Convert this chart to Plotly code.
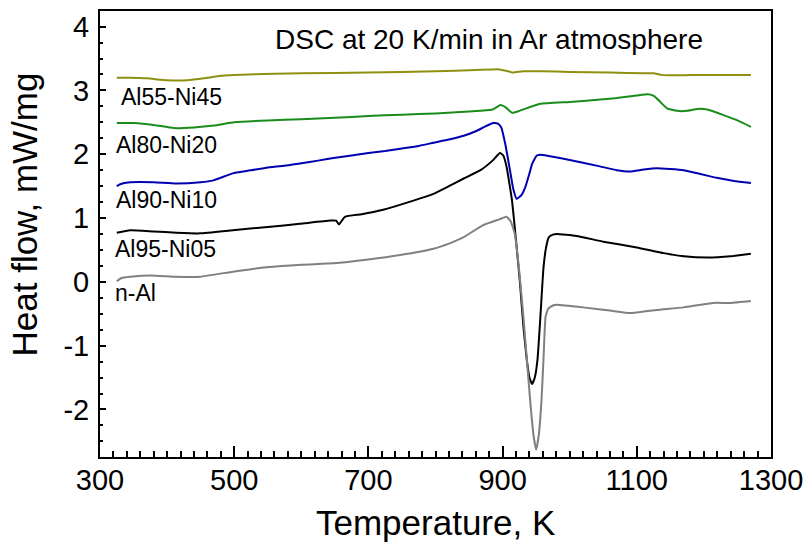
import plotly.graph_objects as go

# DSC traces, temperature in K and heat flow in mW/mg
t_al55 = [325, 345, 370, 400, 430, 455, 480, 520, 600, 700, 800, 860, 895, 905, 915, 930,
          960, 1000, 1060, 1110, 1125, 1138, 1180, 1230, 1270]
hf_al55 = [3.20, 3.20, 3.19, 3.16, 3.16, 3.19, 3.23, 3.25, 3.27, 3.28, 3.30, 3.32, 3.33, 3.31,
           3.28, 3.30, 3.30, 3.29, 3.28, 3.27, 3.27, 3.24, 3.24, 3.24, 3.24]

t_al80 = [325, 350, 380, 410, 440, 470, 500, 550, 600, 650, 700, 750, 800, 850, 885, 897, 905,
          914, 925, 956, 1000, 1050, 1070, 1100, 1117, 1126, 1135, 1145, 1160, 1175, 1190, 1205,
          1230, 1250, 1270]
hf_al80 = [2.49, 2.49, 2.46, 2.41, 2.42, 2.45, 2.50, 2.53, 2.55, 2.57, 2.60, 2.62, 2.64, 2.67,
           2.70, 2.77, 2.73, 2.65, 2.68, 2.79, 2.82, 2.86, 2.88, 2.92, 2.94, 2.91, 2.82, 2.72,
           2.68, 2.68, 2.71, 2.70, 2.61, 2.53, 2.43]

t_al90 = [325, 330, 345, 380, 414, 450, 469, 498, 520, 548, 575, 600, 625, 648, 675, 700, 725,
          750, 775, 797, 820, 842, 860, 875, 886, 893, 898, 904, 911, 916, 921, 928, 934, 940,
          944, 951, 960, 991, 1045, 1070, 1090, 1110, 1130, 1170, 1219, 1245, 1270]
hf_al90 = [1.50, 1.53, 1.56, 1.56, 1.54, 1.56, 1.59, 1.70, 1.74, 1.79, 1.82, 1.86, 1.90, 1.94,
           1.98, 2.02, 2.05, 2.09, 2.13, 2.18, 2.23, 2.29, 2.36, 2.44, 2.49, 2.48, 2.42, 2.16,
           1.75, 1.45, 1.30, 1.36, 1.49, 1.70, 1.85, 1.98, 1.99, 1.93, 1.81, 1.75, 1.73, 1.76,
           1.78, 1.75, 1.63, 1.58, 1.55]

t_al95 = [325, 345, 380, 414, 449, 498, 550, 598, 643, 652, 656, 665, 690, 722, 760, 797, 820,
          842, 867, 885, 896, 901, 906, 910, 914, 920, 926, 931, 936, 940, 944, 948, 952, 956,
          961, 965, 969, 975, 981, 1010, 1050, 1100, 1140, 1170, 1205, 1240, 1270]
hf_al95 = [0.77, 0.81, 0.79, 0.77, 0.76, 0.81, 0.86, 0.91, 0.96, 0.96, 0.90, 1.02, 1.06, 1.13,
           1.25, 1.38, 1.50, 1.62, 1.75, 1.90, 2.02, 1.98, 1.80, 1.55, 1.28, 0.65, -0.03, -0.70,
           -1.22, -1.50, -1.60, -1.50, -1.22, -0.60, 0.23, 0.55, 0.70, 0.74, 0.75, 0.72, 0.63,
           0.54, 0.45, 0.40, 0.38, 0.40, 0.44]

t_nal = [325, 332, 345, 375, 414, 449, 498, 548, 600, 648, 700, 747, 797, 820, 842, 871, 895,
         906, 912, 918, 925, 931, 936, 941, 946, 950, 954, 958, 961, 964, 968, 975, 981, 1020,
         1060, 1090, 1130, 1170, 1214, 1240, 1270]
hf_nal = [0.01, 0.06, 0.08, 0.10, 0.08, 0.08, 0.16, 0.23, 0.27, 0.29, 0.35, 0.42, 0.52, 0.60,
          0.70, 0.89, 0.98, 1.02, 0.95, 0.76, 0.15, -0.55, -1.20, -1.85, -2.40, -2.63, -2.40,
          -1.85, -1.20, -0.55, -0.42, -0.37, -0.36, -0.40, -0.45, -0.49, -0.44, -0.40, -0.33,
          -0.33, -0.30]

# axis tick values and their printed labels (plain hyphen for negatives)
x_tickvals = [300, 500, 700, 900, 1100, 1300]
x_ticktext = ["300", "500", "700", "900", "1100", "1300"]
y_tickvals = [-2, -1, 0, 1, 2, 3, 4]
y_ticktext = ["-2", "-1", "0", "1", "2", "3", "4"]

series = [
    ("Al55-Ni45", t_al55, hf_al55, "#8f8f10", 328, 2.90),
    ("Al80-Ni20", t_al80, hf_al80, "#1a8c1a", 321, 2.14),
    ("Al90-Ni10", t_al90, hf_al90, "#0000b0", 321, 1.29),
    ("Al95-Ni05", t_al95, hf_al95, "#000000", 320, 0.51),
    ("n-Al", t_nal, hf_nal, "#808080", 320, -0.17),
]

FONT = "Liberation Sans, Arial, sans-serif"

fig = go.Figure()
annotations = []
for name, t, hf, color, lx, ly in series:
    fig.add_trace(go.Scatter(x=t, y=hf, mode="lines", name=name,
                             line=dict(color=color, width=2, shape="spline", smoothing=0.4)))
    annotations.append(dict(x=lx, y=ly, xref="x", yref="y", text=name, showarrow=False,
                            xanchor="left", yanchor="middle",
                            font=dict(family=FONT, size=23, color="black")))

annotations.append(dict(x=558, y=3.80, xref="x", yref="y",
                        text="DSC at 20 K/min in Ar atmosphere", showarrow=False,
                        xanchor="left", yanchor="middle",
                        font=dict(family=FONT, size=28, color="black")))
annotations.append(dict(x=0.5, y=0, xref="paper", yref="paper", text="Temperature, K",
                        showarrow=False, xanchor="center", yanchor="top", yshift=-44,
                        font=dict(family=FONT, size=35, color="black")))
annotations.append(dict(x=0, y=0.5426, xref="paper", yref="paper", text="Heat flow, mW/mg",
                        showarrow=False, xanchor="center", yanchor="middle", xshift=-75.5,
                        textangle=-90, font=dict(family=FONT, size=35, color="black")))

fig.update_layout(
    width=804, height=544,
    margin=dict(l=100, r=33, t=11, b=87),
    paper_bgcolor="white", plot_bgcolor="white",
    showlegend=False,
    annotations=annotations,
    font=dict(family=FONT, size=29, color="black"),
)
fig.update_xaxes(
    range=[300, 1300], tickmode="array", tickvals=x_tickvals, ticktext=x_ticktext,
    showgrid=False, zeroline=False, automargin=False,
    showline=True, linecolor="black", linewidth=2, mirror=True,
    ticks="inside", ticklen=11, tickwidth=1.5, tickcolor="black",
    minor=dict(dtick=20, tick0=300, ticks="inside", ticklen=6, tickwidth=1.5,
               tickcolor="black", showgrid=False),
    tickfont=dict(family=FONT, size=29, color="black"),
    ticklabeloverflow="allow", ticklabelstandoff=-4,
)
fig.update_yaxes(
    range=[-2.745, 4.245], tickmode="array", tickvals=y_tickvals, ticktext=y_ticktext,
    showgrid=False, zeroline=False, automargin=False,
    showline=True, linecolor="black", linewidth=2, mirror=True,
    ticks="inside", ticklen=6, tickwidth=1.5, tickcolor="black",
    minor=dict(dtick=0.25, tick0=0, ticks="inside", ticklen=3, tickwidth=1.5,
               tickcolor="black", showgrid=False),
    tickfont=dict(family=FONT, size=29, color="black"),
    ticklabelstandoff=3,
)

fig.write_html("out.html")
